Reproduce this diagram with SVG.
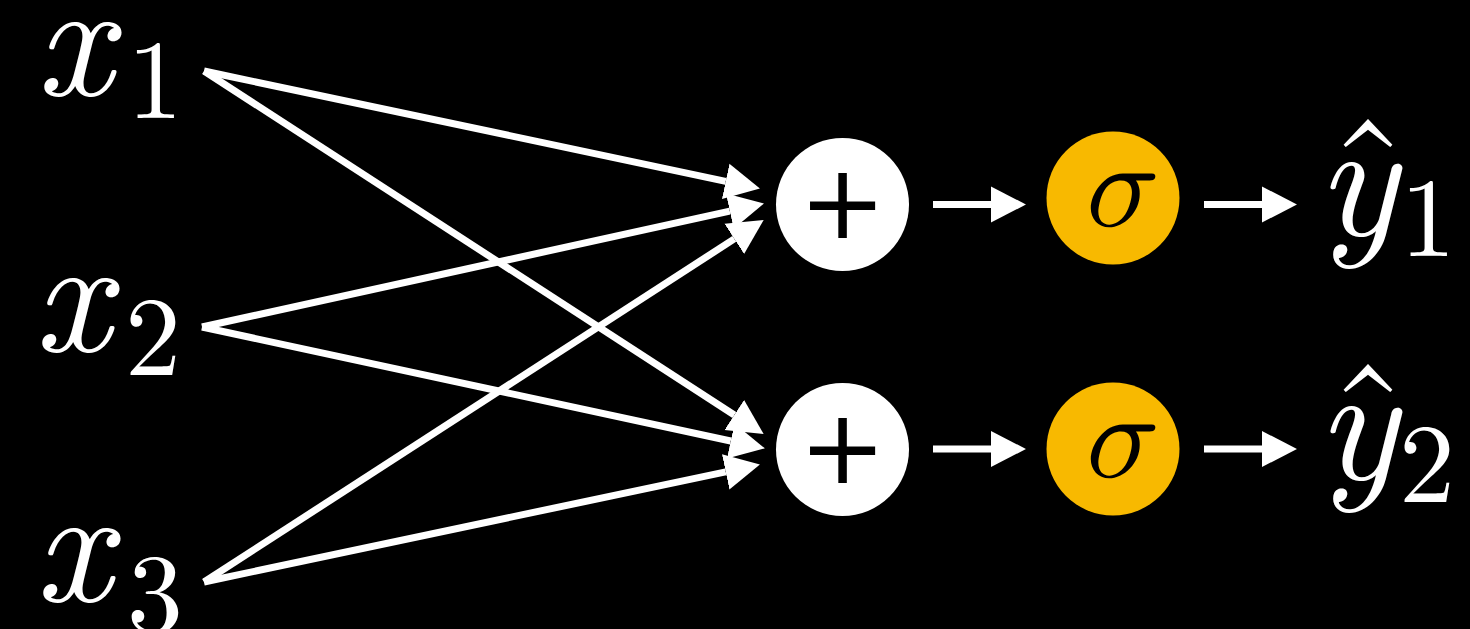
<svg xmlns="http://www.w3.org/2000/svg" width="1470" height="629" viewBox="0 0 1470 629">
  <defs>
    <style>
      .math { font-family: 'Latin Modern Roman', 'Liberation Serif', serif; fill: #ffffff; }
      .var { font-style: italic; font-size: 166px; }
      .sub { font-size: 112px; }
      .hat { font-size: 160px; }
      .edge { stroke: #ffffff; stroke-width: 7; fill: none; marker-end: url(#head); }
      .sumnode { fill: #ffffff; }
      .actnode { fill: #F8B900; }
      .op { font-family: 'DejaVu Sans', sans-serif; font-size: 104px; fill: #000000; }
      .sigma { font-family: 'Latin Modern Math', 'Latin Modern Roman', serif; font-style: italic; font-size: 122px; fill: #000000; }
    </style>
    <marker id="head" markerUnits="userSpaceOnUse" markerWidth="36" markerHeight="38" viewBox="0 -18 35 36" refX="0" refY="0" orient="auto">
      <path d="M0,-17.5 L34,0 L0,17.5 Z" fill="#ffffff"/>
    </marker>
  </defs>

  <rect x="0" y="0" width="1470" height="629" fill="#000000"/>

  <!-- inputs -->
  <g id="x1">
    <text class="math var" x="74" y="95" text-anchor="middle">x</text>
    <text class="math sub" x="155" y="118" text-anchor="middle">1</text>
  </g>
  <g id="x2">
    <text class="math var" x="72" y="351" text-anchor="middle">x</text>
    <text class="math sub" x="153" y="375" text-anchor="middle">2</text>
  </g>
  <g id="x3">
    <text class="math var" x="73" y="601" text-anchor="middle">x</text>
    <text class="math sub" x="155" y="632" text-anchor="middle">3</text>
  </g>

  <!-- weighted connections and pipeline arrows -->
  <g id="connectors">
    <line class="edge" x1="204" y1="71" x2="725.7" y2="181.3"/>
    <line class="edge" x1="204" y1="71" x2="734.3" y2="415.0"/>
    <line class="edge" x1="202" y1="327" x2="729.8" y2="211.1"/>
    <line class="edge" x1="202" y1="327" x2="730.7" y2="441.0"/>
    <line class="edge" x1="204" y1="582" x2="734.3" y2="238.9"/>
    <line class="edge" x1="204" y1="582" x2="725.7" y2="471.8"/>

    <line class="edge" x1="933" y1="204.5" x2="991" y2="204.5"/>
    <line class="edge" x1="1204" y1="204.5" x2="1262" y2="204.5"/>
    <line class="edge" x1="933" y1="449" x2="991" y2="449"/>
    <line class="edge" x1="1204" y1="449" x2="1262" y2="449"/>
  </g>

  <!-- summation nodes -->
  <g id="sum1">
    <circle class="sumnode" cx="842.5" cy="204.5" r="66.5"/>
    <text class="op" x="842.5" y="238" text-anchor="middle">+</text>
  </g>
  <g id="sum2">
    <circle class="sumnode" cx="842.5" cy="449.5" r="66.5"/>
    <text class="op" x="842.5" y="483" text-anchor="middle">+</text>
  </g>

  <!-- activation nodes -->
  <g id="act1">
    <circle class="actnode" cx="1113" cy="198" r="66.5"/>
    <text class="sigma" x="1115" y="226" text-anchor="middle">σ</text>
  </g>
  <g id="act2">
    <circle class="actnode" cx="1113" cy="449" r="66.5"/>
    <text class="sigma" x="1115" y="477" text-anchor="middle">σ</text>
  </g>

  <!-- outputs -->
  <g id="y1">
    <text class="math hat" x="1368" y="230" text-anchor="middle">ˆ</text>
    <text class="math var" x="1357" y="235" text-anchor="middle">y</text>
    <text class="math sub" x="1428" y="256" text-anchor="middle">1</text>
  </g>
  <g id="y2">
    <text class="math hat" x="1368" y="475" text-anchor="middle">ˆ</text>
    <text class="math var" x="1357" y="479" text-anchor="middle">y</text>
    <text class="math sub" x="1427" y="502" text-anchor="middle">2</text>
  </g>
</svg>
